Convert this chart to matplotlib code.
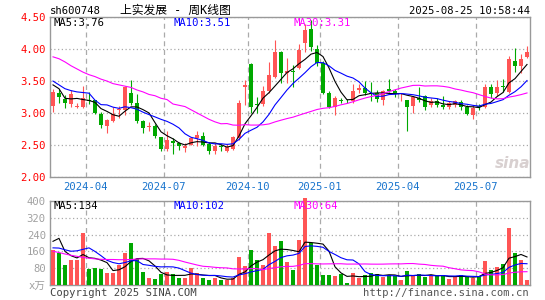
import numpy as np
import pandas as pd
import matplotlib
matplotlib.use('Agg')
import matplotlib.pyplot as plt

plt.rcParams['font.family'] = ['DejaVu Sans Mono', 'Noto Sans CJK SC']
plt.rcParams['font.size'] = 7.1

# weekly K-line data, 2024-02 .. 2025-08 (80 weeks)
opens = [3.11, 3.31, 3.22, 3.14, 3.10, 3.10, 3.21, 3.20, 2.99, 2.80,
         2.87, 3.04, 3.05, 3.32, 3.15, 2.87, 2.78, 2.79, 2.62, 2.43,
         2.56, 2.53, 2.45, 2.50, 2.60, 2.64, 2.51, 2.40, 2.48, 2.40,
         2.44, 2.60, 3.41, 3.77, 3.14, 3.14, 3.34, 3.57, 3.96, 3.63,
         3.66, 3.70, 4.10, 4.32, 4.00, 3.78, 3.32, 3.10, 3.21, 3.19,
         3.19, 3.36, 3.39, 3.31, 3.31, 3.20, 3.38, 3.35, 3.29, 3.20,
         3.11, 3.23, 3.26, 3.13, 3.19, 3.12, 3.09, 3.13, 3.17, 3.09,
         2.97, 3.11, 3.10, 3.41, 3.31, 3.42, 3.33, 3.82, 3.73, 3.88]
highs = [3.38, 3.37, 3.28, 3.36, 3.16, 3.42, 3.33, 3.21, 3.02, 2.90,
         3.10, 3.11, 3.43, 3.52, 3.30, 2.89, 2.86, 2.83, 2.63, 2.72,
         2.60, 2.55, 2.53, 2.63, 2.72, 2.70, 2.55, 2.53, 2.52, 2.52,
         2.64, 3.20, 3.51, 3.78, 3.25, 3.43, 3.80, 4.15, 3.97, 3.86,
         3.75, 4.08, 4.40, 4.45, 4.06, 3.82, 3.35, 3.26, 3.24, 3.22,
         3.45, 3.46, 3.50, 3.49, 3.36, 3.36, 3.54, 3.37, 3.31, 3.21,
         3.26, 3.41, 3.28, 3.23, 3.23, 3.27, 3.18, 3.21, 3.20, 3.12,
         3.13, 3.14, 3.45, 3.45, 3.52, 3.54, 3.90, 4.02, 3.93, 4.05]
lows = [3.02, 3.15, 3.08, 3.09, 3.07, 3.08, 3.14, 2.99, 2.76, 2.68,
        2.86, 2.92, 2.96, 3.13, 2.85, 2.68, 2.72, 2.61, 2.40, 2.40,
        2.35, 2.42, 2.38, 2.49, 2.48, 2.48, 2.35, 2.35, 2.40, 2.39,
        2.42, 2.57, 3.12, 3.00, 3.00, 3.11, 3.31, 3.55, 3.47, 3.47,
        3.40, 3.69, 3.96, 3.97, 3.74, 3.30, 3.08, 2.97, 3.16, 3.15,
        3.15, 3.32, 3.28, 3.18, 3.17, 3.12, 3.33, 3.25, 3.18, 2.72,
        3.00, 3.17, 3.05, 3.09, 3.09, 3.06, 3.06, 3.10, 3.05, 2.96,
        2.91, 3.05, 3.08, 3.24, 3.26, 3.33, 3.31, 3.64, 3.63, 3.86]
closes = [3.33, 3.25, 3.15, 3.30, 3.11, 3.24, 3.18, 3.00, 2.81, 2.89,
          2.98, 3.06, 3.40, 3.15, 2.88, 2.77, 2.80, 2.64, 2.43, 2.57,
          2.53, 2.48, 2.48, 2.60, 2.66, 2.50, 2.41, 2.48, 2.46, 2.47,
          2.62, 3.16, 3.44, 3.09, 3.12, 3.35, 3.59, 3.96, 3.62, 3.65,
          3.64, 3.99, 4.30, 4.03, 3.78, 3.32, 3.10, 3.24, 3.19, 3.18,
          3.35, 3.39, 3.32, 3.29, 3.22, 3.35, 3.35, 3.30, 3.30, 3.09,
          3.25, 3.21, 3.10, 3.18, 3.12, 3.10, 3.15, 3.18, 3.09, 2.98,
          3.08, 3.09, 3.41, 3.29, 3.41, 3.40, 3.85, 3.74, 3.85, 3.96]
# volume, unit 万手
volumes = [165, 152, 94, 118, 118, 246, 75, 80, 77, 58,
           58, 94, 152, 202, 125, 63, 36, 31, 52, 63,
           52, 36, 33, 83, 58, 33, 24, 33, 27, 27,
           36, 136, 90, 168, 118, 94, 246, 188, 208, 110,
           71, 216, 415, 199, 94, 50, 50, 44, 55, 12,
           60, 33, 49, 60, 52, 39, 49, 44, 25, 68,
           44, 55, 39, 44, 44, 49, 30, 39, 49, 39,
           35, 44, 114, 71, 86, 99, 271, 152, 121, 27]

# moving average values before the window is full
ma5_head = [3.44, 3.38, 3.23, 3.22]
ma10_head = [3.50, 3.44, 3.38, 3.35, 3.33, 3.32, 3.31, 3.20, 3.13]
ma30_head = [3.88, 3.85, 3.80, 3.74, 3.69, 3.64, 3.60, 3.57, 3.53, 3.50,
             3.46, 3.44, 3.42, 3.40, 3.36, 3.33, 3.29, 3.27, 3.23, 3.21,
             3.14, 3.12, 3.10, 3.05, 3.00, 2.95, 2.90, 2.86, 2.83]
vma5_head = [208, 222, 160, 140]
vma10_head = [177, 176, 168, 161, 163, 170, 177, 160, 140]
vma30_head = [161, 155, 148, 142, 137, 132, 128, 125, 123, 122,
              122, 121, 121, 122, 124, 125, 125, 125, 124, 124,
              123, 118, 110, 103, 96, 90, 88, 85, 83]

tick_weeks = [6, 19, 33, 45, 58, 71]
tick_labels = ['2024-04', '2024-07', '2024-10', '2025-01', '2025-04', '2025-07']

RED = '#FF5555'
GREEN = '#00A800'


def moving_avg(values, n, head):
    out = pd.Series(values, dtype=float).rolling(n).mean().to_numpy()
    out[:n - 1] = head
    return out


o = np.array(opens)
h = np.array(highs)
l = np.array(lows)
c = np.array(closes)
v = np.array(volumes, dtype=float)
x = np.arange(len(c))
colors = np.where(c >= o, RED, GREEN)

W, H = 545, 300
fig = plt.figure(figsize=(W / 100, H / 100), dpi=100)
ax = fig.add_axes([50 / W, 1 - 176.7 / H, 480 / W, 159.4 / H])
axv = fig.add_axes([50 / W, 1 - 285.3 / H, 480 / W, 84.6 / H])

# candles
ax.vlines(x, l, h, colors=colors, lw=0.8, zorder=3)
ax.bar(x, np.maximum(np.abs(c - o), 0.012), bottom=np.minimum(o, c),
       width=0.8, color=colors, lw=0, zorder=3)
ax.plot(x, moving_avg(c, 5, ma5_head), color='black', lw=0.8, zorder=4)
ax.plot(x, moving_avg(c, 10, ma10_head), color='#0000FF', lw=0.8, zorder=4)
ax.plot(x, moving_avg(c, 30, ma30_head), color='#FF00FF', lw=0.8, zorder=4)

# volume
axv.bar(x, v, width=0.8, color=colors, lw=0, zorder=3, clip_on=False)
axv.plot(x, moving_avg(v, 5, vma5_head), color='black', lw=0.8, zorder=4)
axv.plot(x, moving_avg(v, 10, vma10_head), color='#0000FF', lw=0.8, zorder=4)
axv.plot(x, moving_avg(v, 30, vma30_head), color='#FF00FF', lw=0.8, zorder=4)

for a in (ax, axv):
    a.set_xlim(-0.5, len(c) - 0.5)
    a.set_xticks(np.array(tick_weeks) - 0.5)
    a.xaxis.grid(True, color='#AAAAAA', lw=0.9, ls=(0, (4, 3)))
    a.yaxis.grid(True, color='#AAAAAA', lw=0.9, ls=(0, (1, 2)))
    a.set_axisbelow(True)
    for s in a.spines.values():
        s.set_color('#999999')
        s.set_linewidth(1)
    a.tick_params(length=0)

ax.set_ylim(2.0, 4.5)
ax.set_yticks(np.arange(2.0, 4.51, 0.5))
ax.set_yticklabels(['%.2f' % t for t in np.arange(2.0, 4.51, 0.5)])
ax.tick_params(axis='y', labelcolor='#FF0000', pad=3, labelsize=7.6)
ax.set_xticklabels(tick_labels)
ax.tick_params(axis='x', labelcolor='#1874CD', pad=4, labelsize=7.6)

axv.set_ylim(0, 400)
axv.set_yticks([0, 80, 160, 240, 320, 400])
axv.set_yticklabels(['x万', '80', '160', '240', '320', '400'])
axv.tick_params(axis='y', labelcolor='#A0A0A0', pad=3, labelsize=7.6)
axv.set_xticklabels([])


def ftext(px, py, s, **kw):
    fig.text(px / W, 1 - py / H, s, va='center', **kw)


ftext(50, 11, 'sh600748', fontsize=7.6)
ftext(120, 10.5, '上实发展 - 周K线图', fontsize=8.5)
ftext(530, 11, '2025-08-25 10:58:44', ha='right', fontsize=7.6)

ftext(54, 23.5, 'MA5:%.2f' % np.mean(c[-5:]), color='black', fontsize=7.6)
ftext(174, 23.5, 'MA10:%.2f' % np.mean(c[-10:]), color='#0000FF', fontsize=7.6)
ftext(294, 23.5, 'MA30:%.2f' % np.mean(c[-30:]), color='#FF00FF', fontsize=7.6)

ftext(54, 206, 'MA5:%d' % round(np.mean(v[-5:])), color='black', fontsize=7.6)
ftext(174, 206, 'MA10:%d' % round(np.mean(v[-10:])), color='#0000FF', fontsize=7.6)
ftext(294, 206, 'MA30:%d' % round(np.mean(v[-30:])), color='#FF00FF', fontsize=7.6)

ftext(513, 163, 'sina', ha='center', fontsize=11, color='#D8D0D0',
      family='DejaVu Sans', style='italic', weight='bold')

ftext(50, 293, 'Copyright 2025 SINA.COM', color='#444444', fontsize=7.6)
ftext(529, 293, 'http://finance.sina.com.cn', ha='right', color='#555555', fontsize=7.6)

fig.savefig('out.png', dpi=100)
